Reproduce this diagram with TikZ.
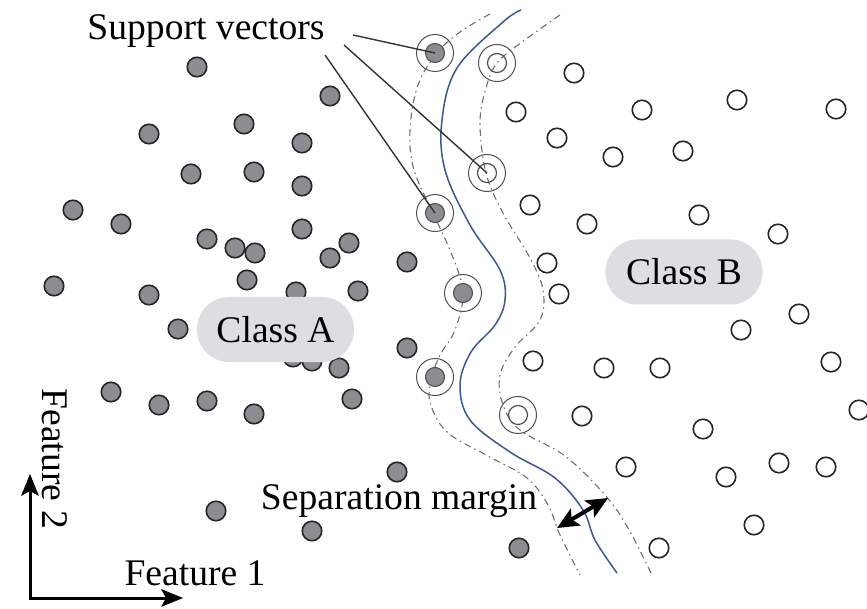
\documentclass[tikz,border=0pt]{standalone}
\usepackage{fontspec}
\setmainfont{Liberation Serif}
\usetikzlibrary{calc}
\definecolor{dotgray}{RGB}{140,140,146}
\definecolor{boxgray}{RGB}{221,222,225}
\definecolor{sepblue}{RGB}{58,88,148}
\definecolor{margray}{RGB}{110,110,110}
\definecolor{ringgray}{RGB}{80,80,80}
\begin{document}
\begin{tikzpicture}[x=1pt,y=-1pt,
  font=\rmfamily\fontsize{37.6}{44}\selectfont,
  apt/.style={circle, draw=black!85, line width=1.6pt, fill=dotgray, minimum size=19.5pt, inner sep=0pt},
  bpt/.style={circle, draw=black!85, line width=1.6pt, fill=white, minimum size=19.5pt, inner sep=0pt},
  svring/.style={circle, draw=ringgray, line width=1pt, minimum size=37pt, inner sep=0pt},
  svfill/.style={circle, draw=ringgray, line width=1.1pt, fill=dotgray, minimum size=19pt, inner sep=0pt},
  svopen/.style={circle, draw=ringgray, line width=1.2pt, minimum size=19pt, inner sep=0pt},
  marginline/.style={margray, line width=1.1pt, dash pattern=on 7pt off 4pt on 1.5pt off 4pt},
  classbox/.style={fill=boxgray, rounded corners=32pt, minimum width=157pt, minimum height=65pt, inner sep=0pt},
  pointer/.style={black!80, line width=1.4pt},
  axis/.style={line width=3pt},
  tipfill/.style={fill=black},
]
\useasboundingbox (0,0) rectangle (867,609);

% margin boundaries (dash-dot) and the separating curve
\draw[marginline] plot[smooth, tension=0.6] coordinates {(490,14) (460,32) (437,53) (418,85) (410,130) (414,170) (433,213) (452,255) (463,293) (455,330) (440,355) (432,377) (430,402) (447,432) (488,456) (527,478) (548,505) (560,535) (580,575)};
\draw[marginline] plot[smooth, tension=0.6] coordinates {(560,15) (522,42) (497,63) (486,88) (480,123) (486,173) (503,213) (530,258) (543,290) (540,320) (515,347) (500,375) (503,405) (520,430) (565,456) (605,495) (628,528) (652,575)};
\draw[sepblue, line width=1.5pt] plot[smooth, tension=0.6] coordinates {(521,10) (503,22) (457,68) (442,120) (445,170) (470,225) (500,270) (505,300) (495,325) (471,352) (460,385) (470,420) (510,452) (555,478) (583,510) (595,540) (617,573)};

% class A samples
\foreach \n/\x/\y in {1/197/67, 2/330/96, 3/149/134, 4/244/124, 5/302/143, 6/191/174,
  7/254/172, 8/302/186, 9/73/210, 10/121/224, 11/207/239, 12/235/248, 13/255/253,
  14/302/229, 15/349/243, 16/330/258, 17/407/262, 18/54/286, 19/149/295, 20/247/280,
  21/296/292, 22/358/291, 23/178/329, 24/407/348, 25/293/357, 26/312/361, 27/339/368,
  28/111/392, 29/159/405, 30/207/401, 31/254/414, 32/352/399, 33/397/472, 34/216/511,
  35/312/531, 36/519/548}
  \node[apt] (a\n) at (\x,\y) {};

% class B samples
\foreach \n/\x/\y in {1/574/73, 2/516/112, 3/642/110, 4/737/100, 5/836/109, 6/557/138,
  7/613/157, 8/683/151, 9/530/205, 10/587/224, 11/699/215, 12/778/234, 13/547/263,
  14/559/294, 15/799/314, 16/741/330, 17/533/361, 18/604/368, 19/660/368, 20/831/362,
  21/859/410, 22/582/416, 23/703/429, 24/626/467, 25/726/477, 26/779/463, 27/826/467,
  28/754/525, 29/659/548}
  \node[bpt] (b\n) at (\x,\y) {};

% support vectors of class A
\foreach \n/\x/\y in {1/435/53, 2/435/213, 3/463/293, 4/435/377} {
  \node[svring] (sar\n) at (\x,\y) {};
  \node[svfill] (sa\n) at (\x,\y) {};
}
% support vectors of class B
\foreach \n/\x/\y in {1/497/63, 2/487/173, 3/518/415} {
  \node[svring] (sbr\n) at (\x,\y) {};
  \node[svopen] (sb\n) at (\x,\y) {};
}

% labels
\node[classbox] (ca) at (275.5,329.5) {Class A};
\node[classbox] (cb) at (684,272) {Class B};
\node[anchor=base, inner sep=0pt] (svlabel) at (206,40) {Support vectors};
\node[anchor=base, inner sep=0pt] (seplabel) at (399,509) {Separation margin};

% pointers from the label to the support vectors
\coordinate (p1) at (353,35);
\coordinate (p2) at (344,45);
\coordinate (p3) at (325,55);
\draw[pointer] (p1) -- (sa1.center);
\draw[pointer] (p2) -- (sb2.center);
\draw[pointer] (p3) -- (sa2.center);

% margin width arrow: shaft plus two filled heads
\coordinate (m1) at (557,528);
\coordinate (m2) at (608,498);
\draw[line width=4pt] ($(m1)!14pt!(m2)$) -- ($(m2)!14pt!(m1)$);
\fill[tipfill] (m1) -- ($(m1)!22pt!(m2)!10pt!90:(m2)$) -- ($(m1)!17pt!(m2)$) -- ($(m1)!22pt!(m2)!10pt!-90:(m2)$) -- cycle;
\fill[tipfill] (m2) -- ($(m2)!22pt!(m1)!10pt!90:(m1)$) -- ($(m2)!17pt!(m1)$) -- ($(m2)!22pt!(m1)!10pt!-90:(m1)$) -- cycle;

% feature axes
\coordinate (o) at (30,598);
\coordinate (yend) at (30,474);
\coordinate (xend) at (183,598);
\draw[axis] ([yshift=1.5pt]o) -- ($(yend)!16pt!(o)$);
\draw[axis] ([xshift=-1.5pt]o) -- ($(xend)!16pt!(o)$);
\fill[tipfill] (yend) -- ($(yend)!22pt!(o)!9pt!90:(o)$) -- ($(yend)!17pt!(o)$) -- ($(yend)!22pt!(o)!9pt!-90:(o)$) -- cycle;
\fill[tipfill] (xend) -- ($(xend)!22pt!(o)!9pt!90:(o)$) -- ($(xend)!17pt!(o)$) -- ($(xend)!22pt!(o)!9pt!-90:(o)$) -- cycle;
\node[anchor=base, inner sep=0pt] (f1) at (195,585) {Feature 1};
\node[anchor=base, inner sep=0pt, rotate=-90] (f2) at (42,459) {Feature 2};
\end{tikzpicture}
\end{document}
